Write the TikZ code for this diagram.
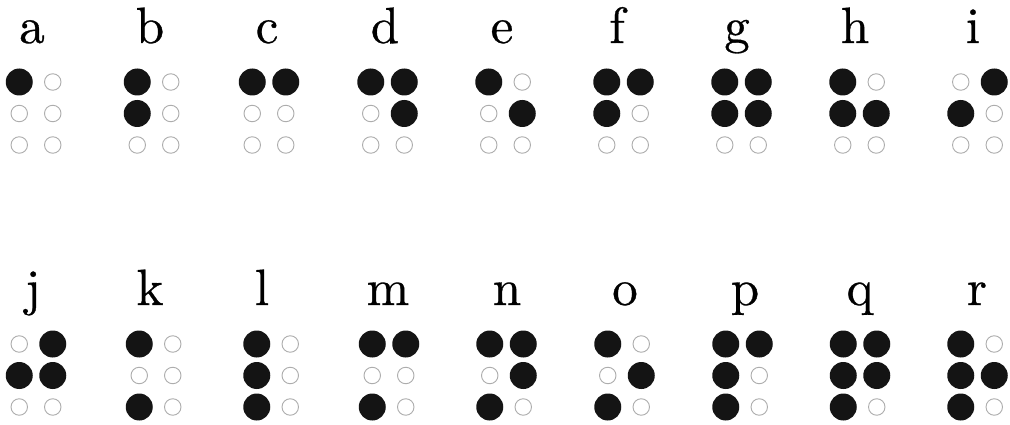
\documentclass[tikz,border=0pt]{standalone}
\usepackage{fontspec}
\newfontfamily\letterfont{lmroman10-regular}[Extension=.otf,FakeBold=0.6]
\newcommand\braillecell[6]{%
  \node[letter] (#1) at (#2,#4) {#1};
  \foreach \v [count=\k] in {#6} {
    \pgfmathtruncatemacro\col{int((\k-1)/3)}
    \pgfmathtruncatemacro\row{mod(\k-1,3)}
    \pgfmathsetmacro\dx{#3+(2*\col-1)*16.75}
    \pgfmathsetmacro\dy{#5+\row*31.5}
    \ifnum\v=1
      \node[fulldot] (#1\k) at (\dx,\dy) {};
    \else
      \node[emptydot] (#1\k) at (\dx,\dy) {};
    \fi
  }
}
\begin{document}
\begin{tikzpicture}[x=1pt,y=-1pt,
  fulldot/.style={circle,fill=black!92,inner sep=0pt,minimum size=27pt},
  emptydot/.style={circle,draw=black!32,line width=0.9pt,inner sep=0pt,minimum size=16.5pt},
  letter/.style={font=\letterfont\fontsize{51}{60}\selectfont,anchor=base,inner sep=0pt}]
\useasboundingbox[fill=white] (0,0) rectangle (1010,425);
% top row
\braillecell{a}{32}{36}{43}{82}{1,0,0,0,0,0}
\braillecell{b}{150}{154}{43}{82}{1,1,0,0,0,0}
\braillecell{c}{267}{269}{43}{82}{1,0,0,1,0,0}
\braillecell{d}{385}{387.5}{43}{82}{1,0,0,1,1,0}
\braillecell{e}{502}{505.5}{43}{82}{1,0,0,0,1,0}
\braillecell{f}{617}{623.5}{43}{82}{1,1,0,1,0,0}
\braillecell{g}{737}{741.5}{43}{82}{1,1,0,1,1,0}
\braillecell{h}{855}{859.5}{43}{82}{1,1,0,0,1,0}
\braillecell{i}{973}{977.5}{43}{82}{0,1,0,1,0,0}
% bottom row
\braillecell{j}{33}{36}{305}{344}{0,1,0,1,1,0}
\braillecell{k}{150}{156}{305}{344}{1,0,1,0,0,0}
\braillecell{l}{262}{273.5}{305}{344}{1,1,1,0,0,0}
\braillecell{m}{388}{389}{305}{344}{1,0,1,1,0,0}
\braillecell{n}{507}{506.5}{305}{344}{1,0,1,1,1,0}
\braillecell{o}{625}{624.5}{305}{344}{1,0,1,0,1,0}
\braillecell{p}{745}{742.5}{305}{344}{1,1,1,1,0,0}
\braillecell{q}{860}{860}{305}{344}{1,1,1,1,1,0}
\braillecell{r}{977}{977.5}{305}{344}{1,1,1,0,1,0}
\end{tikzpicture}
\end{document}
